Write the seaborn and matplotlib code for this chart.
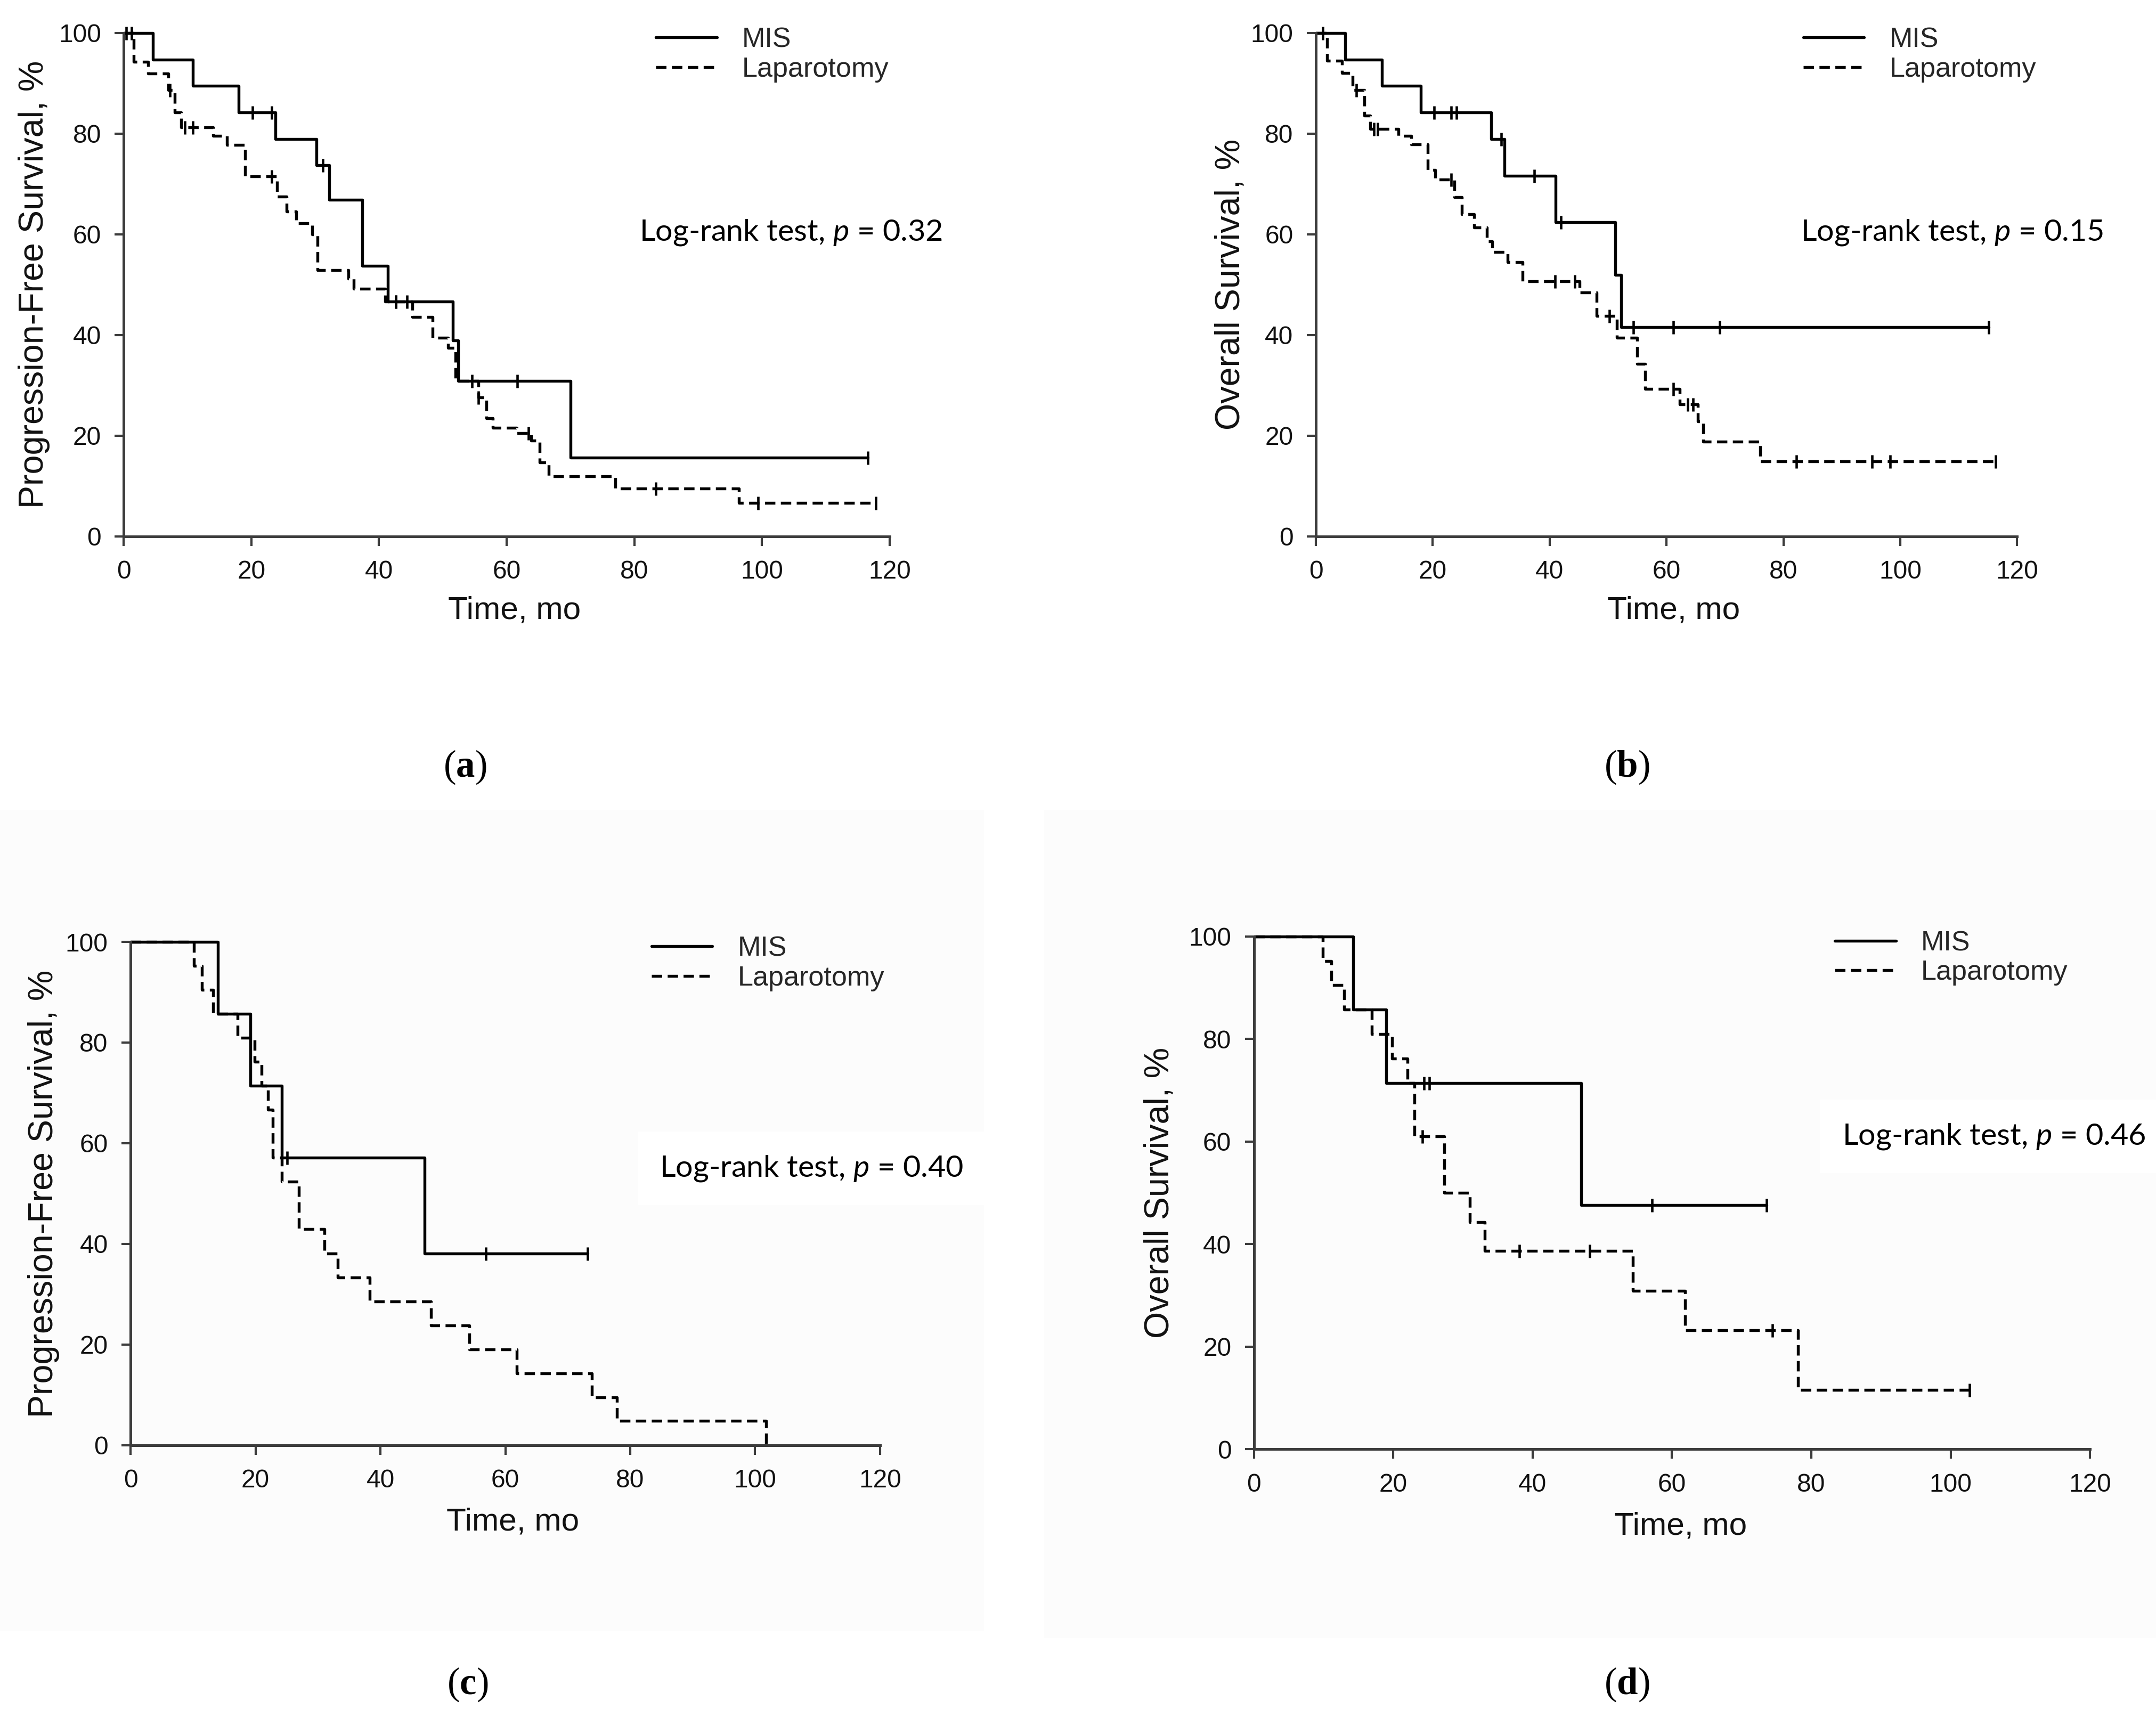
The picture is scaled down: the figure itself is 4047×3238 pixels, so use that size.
import numpy as np
import pandas as pd
import seaborn as sns
import matplotlib.pyplot as plt
from matplotlib.patches import Rectangle

# ---- data (time in months, survival in %) ----
# (a) progression-free survival, whole cohort
a_mis_t = [0, 4.6, 10.8, 18.0, 23.8, 30.2, 32.2, 37.4, 41.4, 51.6, 52.4, 70.0]
a_mis_s = [100, 94.7, 89.5, 84.2, 78.9, 73.7, 66.9, 53.7, 46.6, 38.9, 30.9, 15.6]
a_mis_end = 116.6
a_mis_cens = [20.2, 23.2, 31.2, 42.6, 44.4, 54.6, 61.7, 116.6]
a_lap_t = [0, 1.6, 3.8, 7.0, 8.0, 9.0, 14.0, 16.2, 19.0, 24.0, 25.5, 27.0, 29.5, 30.4,
           35.2, 36.0, 41.0, 45.2, 48.4, 50.8, 52.0, 55.6, 56.8, 57.8, 61.6, 63.8, 65.2,
           66.6, 77.0, 96.4]
a_lap_s = [100, 94.3, 91.9, 88.7, 84.2, 81.3, 79.6, 77.8, 71.5, 67.5, 64.5, 62.2, 60.0, 52.9,
           51.2, 49.2, 46.6, 43.6, 39.4, 37.4, 30.9, 27.6, 23.5, 21.6, 20.5, 19.0, 14.7,
           11.9, 9.5, 6.6]
a_lap_end = 117.8
a_lap_cens = [0.4, 1.2, 7.2, 9.6, 10.8, 23.2, 42.6, 55.6, 63.4, 83.4, 99.4, 117.8]

# (b) overall survival, whole cohort
b_mis_t = [0, 5.0, 11.3, 18.0, 30.0, 32.3, 41.0, 51.2, 52.2]
b_mis_s = [100, 94.7, 89.5, 84.2, 78.9, 71.6, 62.4, 51.9, 41.6]
b_mis_end = 115.1
b_mis_cens = [20.2, 23.2, 24.1, 31.7, 37.4, 41.9, 54.3, 61.2, 69.1, 115.1]
b_lap_t = [0, 1.9, 4.5, 6.3, 8.3, 9.3, 14.1, 16.3, 19.1, 20.4, 23.7, 25.0, 27.1, 29.3,
           30.2, 32.8, 35.4, 45.1, 48.0, 51.5, 55.0, 56.3, 62.3, 65.4, 66.3, 76.0]
b_lap_s = [100, 94.5, 92.1, 88.7, 83.6, 80.9, 79.6, 77.9, 72.8, 70.9, 67.4, 64.0, 61.4, 58.6,
           56.5, 54.5, 50.7, 48.4, 43.8, 39.4, 34.3, 29.3, 26.2, 22.8, 18.8, 14.9]
b_lap_end = 116.3
b_lap_cens = [1.2, 6.9, 9.9, 10.6, 23.2, 40.9, 44.3, 50.2, 61.2, 63.6, 64.5, 82.2, 95.2,
              98.3, 116.3]

# (c) progression-free survival, subgroup
c_mis_t = [0, 14.0, 19.2, 24.2, 47.1]
c_mis_s = [100, 85.7, 71.4, 57.1, 38.1]
c_mis_end = 73.2
c_mis_cens = [25.1, 56.9, 73.2]
c_lap_t = [0, 10.1, 11.4, 13.2, 17.1, 19.9, 21.0, 22.0, 22.8, 24.2, 26.9, 31.0, 33.2, 38.3,
           48.1, 54.2, 61.8, 73.9, 77.9, 101.8]
c_lap_s = [100, 95.2, 90.5, 85.7, 81.0, 76.2, 71.4, 66.7, 57.1, 52.4, 42.9, 38.1, 33.3, 28.6,
           23.8, 19.0, 14.3, 9.5, 4.8, 0]
c_lap_end = 101.8
c_lap_cens = []

# (d) overall survival, subgroup
d_mis_t = [0, 14.2, 19.0, 47.0]
d_mis_s = [100, 85.7, 71.4, 47.6]
d_mis_end = 73.6
d_mis_cens = [24.4, 25.2, 57.1, 73.6]
d_lap_t = [0, 9.9, 11.1, 12.9, 16.9, 19.8, 22.0, 23.0, 27.3, 31.0, 33.1, 54.4, 61.9, 78.1]
d_lap_s = [100, 95.2, 90.5, 85.7, 81.0, 76.2, 71.4, 61.0, 50.0, 44.3, 38.7, 30.9, 23.2, 11.6]
d_lap_end = 102.7
d_lap_cens = [24.2, 38.1, 48.2, 74.4, 102.7]

p_values = ["0.32", "0.15", "0.40", "0.46"]
ylabels = ["Progression-Free Survival, %", "Overall Survival, %",
           "Progression-Free Survival, %", "Overall Survival, %"]
captions = ["a", "b", "c", "d"]
xticks = [0, 20, 40, 60, 80, 100, 120]
yticks = [0, 20, 40, 60, 80, 100]

# %%
sns.set_style("ticks")
plt.rcParams['font.family'] = ['Liberation Sans', 'DejaVu Sans']
plt.rcParams['mathtext.fontset'] = 'custom'
plt.rcParams['mathtext.it'] = 'Lato:italic'
plt.rcParams['mathtext.bf'] = 'Liberation Serif:bold'
plt.rcParams['mathtext.rm'] = 'Liberation Serif'

AX_COL = '#3c3c3c'
W, H = 1568.0, 1254.5   # layout measured on a 1568 px wide view


def rect(l, r, top, bottom):
    return [l / W, 1 - bottom / H, (r - l) / W, (bottom - top) / H]


def step_at(t, s, x):
    idx = np.searchsorted(t, x, side='right') - 1
    return np.asarray(s)[idx]


def km_curve(ax, t, s, end, cens, ls, label):
    df = pd.DataFrame({'t': list(t) + [end], 's': list(s) + [s[-1]]})
    sns.lineplot(data=df, x='t', y='s', drawstyle='steps-post', estimator=None, sort=False,
                 color='black', linewidth=1.3, linestyle=ls, ax=ax, label=label, clip_on=False)
    if len(cens):
        ax.plot(cens, step_at(t, s, cens), marker='|', linestyle='none', markersize=6,
                markeredgewidth=1.1, color='black', clip_on=False)


fig = plt.figure(figsize=(4047 / 300, 3238 / 300), dpi=300)
fig.patch.set_facecolor('white')

# very faint grey backdrop of the two lower source images
fig.patches.append(Rectangle((0, 1 - 1185 / H), 715 / W, (1185 - 590) / H,
                             transform=fig.transFigure, color='#fcfcfc', zorder=-5))
fig.patches.append(Rectangle((760 / W, 1 - 1190 / H), (1568 - 760) / W, (1190 - 590) / H,
                             transform=fig.transFigure, color='#fcfcfc', zorder=-5))

panels = [
    (rect(90, 647, 24, 390), a_mis_t, a_mis_s, a_mis_end, a_mis_cens,
     a_lap_t, a_lap_s, a_lap_end, a_lap_cens, (80.8, 60.3), -0.117, -0.148, (338, 558)),
    (rect(957, 1467, 24, 390), b_mis_t, b_mis_s, b_mis_end, b_mis_cens,
     b_lap_t, b_lap_s, b_lap_end, b_lap_cens, (83.0, 60.3), -0.122, -0.148, (1183, 558)),
    (rect(95, 640, 685, 1051), c_mis_t, c_mis_s, c_mis_end, c_mis_cens,
     c_lap_t, c_lap_s, c_lap_end, c_lap_cens, (84.7, 55.0), -0.116, -0.153, (340, 1225)),
    (rect(912, 1520, 681, 1054), d_mis_t, d_mis_s, d_mis_end, d_mis_cens,
     d_lap_t, d_lap_s, d_lap_end, d_lap_cens, (84.4, 61.0), -0.113, -0.150, (1183, 1225)),
]

for i, (pos, mt, ms, me, mc, lt, lsv, le, lc, txy, ylx, xly, cap) in enumerate(panels):
    ax = fig.add_axes(pos)
    ax.set_facecolor('none')
    km_curve(ax, mt, ms, me, mc, '-', 'MIS')
    km_curve(ax, lt, lsv, le, lc, (0, (3.6, 1.9)), 'Laparotomy')

    ax.set_xlim(0, 120)
    ax.set_ylim(0, 100)
    ax.set_xticks(xticks)
    ax.set_yticks(yticks)
    sns.despine(ax=ax)
    for sp in ['left', 'bottom']:
        ax.spines[sp].set_color(AX_COL)
        ax.spines[sp].set_linewidth(1.2)
    ax.tick_params(direction='out', length=4.2, width=1.0, color=AX_COL,
                   labelsize=11.5, labelcolor='#111111')
    ax.tick_params(axis='x', pad=6.5)
    ax.tick_params(axis='y', pad=6)

    ax.set_xlabel("Time, mo", fontsize=14.5, color='#111111')
    ax.xaxis.set_label_coords(0.51, xly)
    ax.xaxis.label.set_verticalalignment('center')
    ax.set_ylabel(ylabels[i], fontsize=15.5, color='#111111')
    ax.yaxis.set_label_coords(ylx, 0.5)
    ax.yaxis.label.set_verticalalignment('center')

    lines = [l for l in ax.get_lines() if l.get_label() in ('MIS', 'Laparotomy')]
    ax.legend(handles=lines, labels=['MIS', 'Laparotomy'], loc='upper left',
              bbox_to_anchor=(0.695, 1.012), frameon=False, fontsize=12.5,
              handlelength=2.2, handletextpad=0.9, labelspacing=0.12,
              borderpad=0, borderaxespad=0)

    ax.text(txy[0], txy[1], "Log-rank test, $\\mathit{p}$ = " + p_values[i],
            fontsize=13.8, family=['Lato', 'DejaVu Sans'], ha='left', va='center',
            color='black',
            bbox=dict(facecolor='white', edgecolor='none', pad=10))

    fig.text(cap[0] / W, 1 - cap[1] / H, "($\\mathbf{" + captions[i] + "}$)",
             fontsize=17, family=['Liberation Serif', 'DejaVu Serif'],
             ha='center', va='center', color='black')

fig.savefig("out.png", dpi=300)
